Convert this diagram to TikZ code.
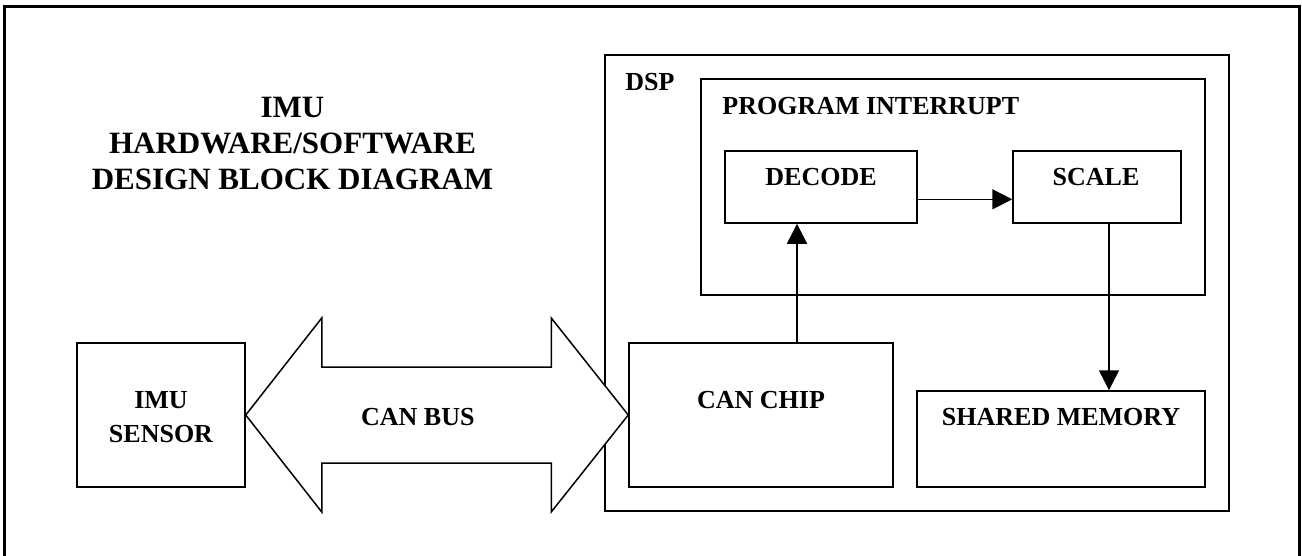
\documentclass[tikz,border=0pt]{standalone}
\usepackage{fontspec}
\setmainfont{Liberation Serif}
\usetikzlibrary{arrows.meta,calc,fit}

\begin{document}
\begin{tikzpicture}[x=0.5pt,y=-0.5pt,
  txt/.style={inner sep=0pt,font=\bfseries\fontsize{13}{17}\selectfont},
  titletxt/.style={inner sep=0pt,align=center,font=\bfseries\fontsize{15.5}{18}\selectfont},
  block/.style={draw,line width=0.75pt,inner sep=0pt},
  pageframe/.style={draw,line width=1.1pt},
  busarrow/.style={draw,fill=white,line width=0.75pt,line join=miter},
  flow/.style={line width=0.75pt,-{Triangle[length=10pt,width=10pt]}}
]
\useasboundingbox (0,0) rectangle (1302,556);
\clip (0,0) rectangle (1302,556);

% outer frame, open at the bottom edge of the page
\draw[pageframe] (4.5,6.5) rectangle (1299.5,600);

% title
\node[titletxt] (title) at (292.5,144) {IMU\\HARDWARE/SOFTWARE\\DESIGN BLOCK DIAGRAM};

% DSP container and the interrupt routine inside it
\node[block,fit={(605,55) (1229,511)}] (dsp) {};
\node[txt,anchor=west] (dsplabel) at (625,82.5) {DSP};
\node[block,fit={(701,79) (1205,295)}] (pi) {};
\node[txt,anchor=west] (pilabel) at (722,106.5) {PROGRAM INTERRUPT};

\node[block,fit={(725,151) (917,223)}] (decode) {};
\node[txt] (decodelabel) at ($(decode.north)+(0,26.4)$) {DECODE};
\node[block,fit={(1013,151) (1181,223)}] (scale) {};
\node[txt] (scalelabel) at ($(scale.north)+(-1,26.4)$) {SCALE};

% sensor and the CAN bus between sensor and chip
\node[block,fit={(77,343) (245,487)}] (imu) {};
\node[txt,align=center] (imulabel) at ($(imu.center)+(0,2.5)$) {IMU\\SENSOR};
\node[block,fit={(629,343) (893,487)}] (canchip) {};
\node[txt] (canchiplabel) at ($(canchip.north)+(0,58)$) {CAN CHIP};

\draw[busarrow] (imu.east)
  -- ($(imu.east)+(76,-97)$) -- ($(imu.east)+(76,-48)$)
  -- ($(canchip.west)+(-77,-48)$) -- ($(canchip.west)+(-77,-97)$)
  -- (canchip.west)
  -- ($(canchip.west)+(-77,97)$) -- ($(canchip.west)+(-77,48)$)
  -- ($(imu.east)+(76,48)$) -- ($(imu.east)+(76,97)$) -- cycle;
\node[txt] (buslabel) at ($(imu.east)!0.45!(canchip.west)+(0,2)$) {CAN BUS};

\node[block,fit={(917,391) (1205,487)}] (shmem) {};
\node[txt] (shmemlabel) at ($(shmem.north)+(0,26.5)$) {SHARED MEMORY};

% data flow
\coordinate (busx) at (797,0);
\coordinate (memx) at (1109,0);
\coordinate (linky) at (0,199.3);
\draw[flow] (canchip.north -| busx) -- (decode.south -| busx);
\draw[flow] (decode.east |- linky) -- (scale.west |- linky);
\draw[flow] (scale.south -| memx) -- (shmem.north -| memx);
\end{tikzpicture}
\end{document}
